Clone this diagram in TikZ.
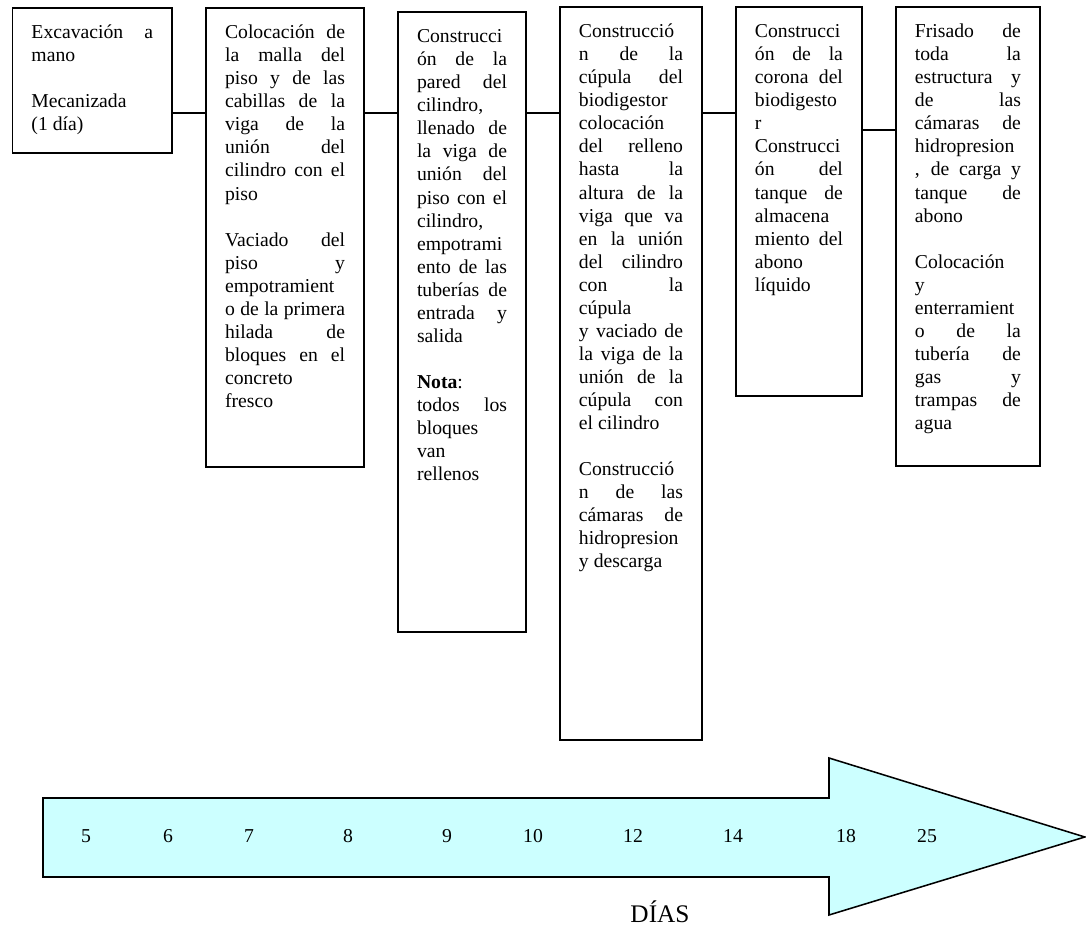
\documentclass[tikz,border=0pt]{standalone}
\usepackage{fontspec}
\setmainfont{Liberation Serif}
\usetikzlibrary{positioning}

\definecolor{daycyan}{HTML}{CCFFFF}

% one justified line, and the text block of a stage box
\newcommand{\jl}[1]{\makebox[\linewidth][s]{#1}}
\newcommand{\stagetext}[3]{\parbox[t][#2][t]{#1}{\strut#3}}

\begin{document}
\begin{tikzpicture}[node distance=0.8cm]
    % Styles
    \tikzstyle{stage} = [rectangle, draw, line width=1.4pt, inner xsep=0.475cm, inner ysep=0.35cm, font=\fontsize{14pt}{16.4pt}\selectfont]
    \tikzstyle{link} = [line width=1.4pt]
    \tikzstyle{timeline} = [draw, line width=1.1pt, fill=daycyan, line join=miter]
    \tikzstyle{day} = [font=\fontsize{14pt}{16.4pt}\selectfont]

    \useasboundingbox (0,0) rectangle (27.15,-23.25);

    % Stages of the work
    \node [stage, anchor=north west] (excav) at (0.2875,-0.1875) {\stagetext{3.04cm}{2.9125cm}{%
        \jl{Excavación a}\\
        mano\\[\baselineskip]
        Mecanizada\\
        (1 día)}};
    \node [stage, right=of excav.north east, anchor=north west] (malla) {\stagetext{3.0cm}{10.775cm}{%
        \jl{Colocación de}\\
        \jl{la malla del}\\
        \jl{piso y de las}\\
        \jl{cabillas de la}\\
        \jl{viga de la}\\
        \jl{unión del}\\
        \jl{cilindro con el}\\
        piso\\[\baselineskip]
        \jl{Vaciado del}\\
        \jl{piso y}\\
        empotramient\\
        \jl{o de la primera}\\
        \jl{hilada de}\\
        \jl{bloques en el}\\
        concreto\\
        fresco}};
    \node [stage, right=of malla.north east, anchor=north west, yshift=-0.1cm] (pared) {\stagetext{2.25cm}{14.8cm}{%
        Construcci\\
        \jl{ón de la}\\
        \jl{pared del}\\
        cilindro,\\
        \jl{llenado de}\\
        \jl{la viga de}\\
        \jl{unión del}\\
        \jl{piso con el}\\
        cilindro,\\
        empotrami\\
        \jl{ento de las}\\
        \jl{tuberías de}\\
        \jl{entrada y}\\
        salida\\[\baselineskip]
        \textbf{Nota}:\\
        \jl{todos los}\\
        bloques\\
        van\\
        rellenos}};
    \node [stage, right=of pared.north east, anchor=north west, yshift=0.125cm] (cupula) {\stagetext{2.6cm}{17.625cm}{%
        Construcció\\
        \jl{n de la}\\
        \jl{cúpula del}\\
        biodigestor\\
        colocación\\
        \jl{del relleno}\\
        \jl{hasta la}\\
        \jl{altura de la}\\
        \jl{viga que va}\\
        \jl{en la unión}\\
        \jl{del cilindro}\\
        \jl{con la}\\
        cúpula\\
        \jl{y vaciado de}\\
        \jl{la viga de la}\\
        \jl{unión de la}\\
        \jl{cúpula con}\\
        el cilindro\\[\baselineskip]
        Construcció\\
        \jl{n de las}\\
        \jl{cámaras de}\\
        hidropresion\\
        y descarga}};
    \node [stage, right=of cupula.north east, anchor=north west] (corona) {\stagetext{2.2cm}{9.025cm}{%
        Construcci\\
        \jl{ón de la}\\
        \jl{corona del}\\
        biodigesto\\
        r\\
        Construcci\\
        \jl{ón del}\\
        \jl{tanque de}\\
        almacena\\
        \jl{miento del}\\
        abono\\
        líquido}};
    \node [stage, right=of corona.north east, anchor=north west] (frisado) {\stagetext{2.65cm}{10.775cm}{%
        \jl{Frisado de}\\
        \jl{toda la}\\
        \jl{estructura y}\\
        \jl{de las}\\
        \jl{cámaras de}\\
        hidropresion\\
        \jl{, de carga y}\\
        \jl{tanque de}\\
        abono\\[\baselineskip]
        Colocación\\
        y\\
        enterramient\\
        \jl{o de la}\\
        \jl{tubería de}\\
        \jl{gas y}\\
        \jl{trampas de}\\
        agua}};

    % Links between stages
    \coordinate (lvl) at (0,-2.825);
    \coordinate (lvl2) at (0,-3.25);
    \draw [link] (excav.east |- lvl) -- (malla.west |- lvl);
    \draw [link] (malla.east |- lvl) -- (pared.west |- lvl);
    \draw [link] (pared.east |- lvl) -- (cupula.west |- lvl);
    \draw [link] (cupula.east |- lvl) -- (corona.west |- lvl);
    \draw [link] (corona.east |- lvl2) -- (frisado.west |- lvl2);

    % Time line
    \draw [timeline] (1.075,-19.95) -- (20.725,-19.95) -- (20.725,-18.95) -- (27.12,-20.925)
        -- (20.725,-22.875) -- (20.725,-21.925) -- (1.075,-21.925) -- cycle;

    \node [day] (d5) at (2.15,-20.9) {5};
    \node [day] (d6) at (4.2,-20.9) {6};
    \node [day] (d7) at (6.225,-20.9) {7};
    \node [day] (d8) at (8.7,-20.9) {8};
    \node [day] (d9) at (11.175,-20.9) {9};
    \node [day] (d10) at (13.325,-20.9) {10};
    \node [day] (d12) at (15.825,-20.9) {12};
    \node [day] (d14) at (18.325,-20.9) {14};
    \node [day] (d18) at (21.15,-20.9) {18};
    \node [day] (d25) at (23.175,-20.9) {25};

    \node [anchor=base, font=\fontsize{18pt}{21pt}\selectfont] (dias) at (16.5,-23.05) {DÍAS};

\end{tikzpicture}
\end{document}
